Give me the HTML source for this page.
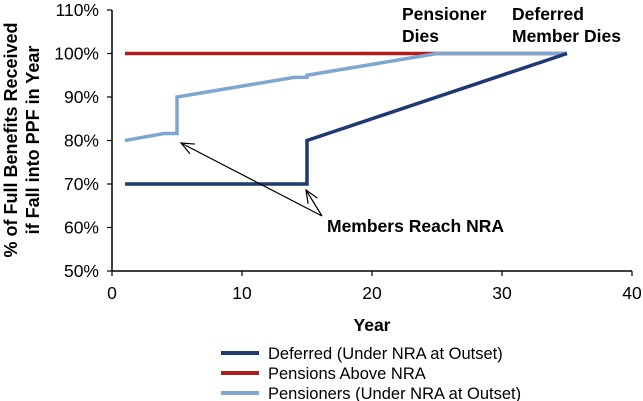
<!DOCTYPE html>
<html><head><meta charset="utf-8"><style>
body{margin:0;background:#fff}
svg{display:block;font-family:"Liberation Sans",Arial,sans-serif}
</style></head><body>
<svg id="c" width="643" height="401"></svg>
<script>
const xTicks=[0,10,20,30,40];
const yTicks=[50,60,70,80,90,100,110];
const deferredX=[1,15,15,35];
const deferredY=[70,70,80,100];
const aboveX=[1,35];
const aboveY=[100,100];
const pensX=[1,4,5,5,14,15,15,25,35];
const pensY=[80,81.6,81.6,90,94.5,94.5,95,100,100];
const seriesNames=["Deferred (Under NRA at Outset)","Pensions Above NRA","Pensioners (Under NRA at Outset)"];
const colors=["#1f3a6e","#b01c1c","#7ea6d0"];

const svg=document.getElementById('c');
const NS='http://www.w3.org/2000/svg';
const X=v=>112+(v-0)*(632-112)/40;
const Y=v=>271-(v-50)*(271-10)/60;
function mk(tag,a,parent){const e=document.createElementNS(NS,tag);for(const k in a)e.setAttribute(k,a[k]);(parent||svg).appendChild(e);return e;}

let ya=mk('line',{x1:112,y1:10,x2:112,y2:271,stroke:'#000','stroke-width':1.5});


let xa=mk('line',{x1:112,y1:271,x2:632,y2:271,stroke:'#000','stroke-width':1.5});


yTicks.forEach(t=>{
  let l=mk('line',{x1:107,y1:Y(t),x2:112,y2:Y(t),stroke:'#000','stroke-width':1.2});
  
  
  let tx=mk('text',{x:99,y:Y(t)+6,'text-anchor':'end','font-size':17.5});
  tx.textContent=t+'%';
  
  
});
xTicks.forEach(t=>{
  let l=mk('line',{x1:X(t),y1:271,x2:X(t),y2:276,stroke:'#000','stroke-width':1.2});
  
  
  let tx=mk('text',{x:X(t),y:299,'text-anchor':'middle','font-size':17.5});
  tx.textContent=t;
  
  
});
let xt=mk('text',{x:372,y:331,'text-anchor':'middle','font-size':17.5,'font-weight':'bold'});
xt.textContent='Year';


let yt=mk('text',{transform:'translate(17,140) rotate(-90)','text-anchor':'middle','font-size':18,'font-weight':'bold'});


let s1=mk('tspan',{x:0,dy:0},yt);s1.textContent='% of Full Benefits Received';
let s2=mk('tspan',{x:0,dy:22},yt);s2.textContent='if Fall into PPF in Year';

function series(xs,ys,col,name){
  const p=mk('polyline',{points:xs.map((x,i)=>X(x)+','+Y(ys[i])).join(' '),fill:'none',stroke:col,'stroke-width':3.5,'stroke-linejoin':'miter'});
  
  
}
series(aboveX,aboveY,colors[1],'pensions-above-nra-line');
series(pensX,pensY,colors[2],'pensioners-line');
series(deferredX,deferredY,colors[0],'deferred-line');

function arrow(x1,y1,x2,y2){
  mk('line',{x1:x1,y1:y1,x2:x2,y2:y2,stroke:'#000','stroke-width':1.2});
  const a=Math.atan2(y1-y2,x1-x2),L=14,w=0.4;
  mk('polyline',{points:(x2+L*Math.cos(a+w))+','+(y2+L*Math.sin(a+w))+' '+x2+','+y2+' '+(x2+L*Math.cos(a-w))+','+(y2+L*Math.sin(a-w)),fill:'none',stroke:'#000','stroke-width':1.2});
}
arrow(322,216,181,143);
arrow(322,216,306,190);
let ann=mk('text',{x:327,y:232,'font-size':17.5,'font-weight':'bold'});
ann.textContent='Members Reach NRA';


[['Pensioner','Dies',402,'pensioner-dies-annotation'],['Deferred','Member Dies',512,'deferred-dies-annotation']].forEach(d=>{
  let t=mk('text',{x:d[2],y:20,'font-size':17.5,'font-weight':'bold'});
  
  
  let a=mk('tspan',{x:d[2],dy:0},t);a.textContent=d[0];
  let b=mk('tspan',{x:d[2],dy:22},t);b.textContent=d[1];
});

seriesNames.forEach((n,i)=>{
  const y=353+i*20;
  let l=mk('line',{x1:221,y1:y,x2:259,y2:y,stroke:colors[i],'stroke-width':4});
  
  
  let t=mk('text',{x:268,y:y+6,'font-size':16.5});
  t.textContent=n;
  
  
});
</script>
</body></html>
